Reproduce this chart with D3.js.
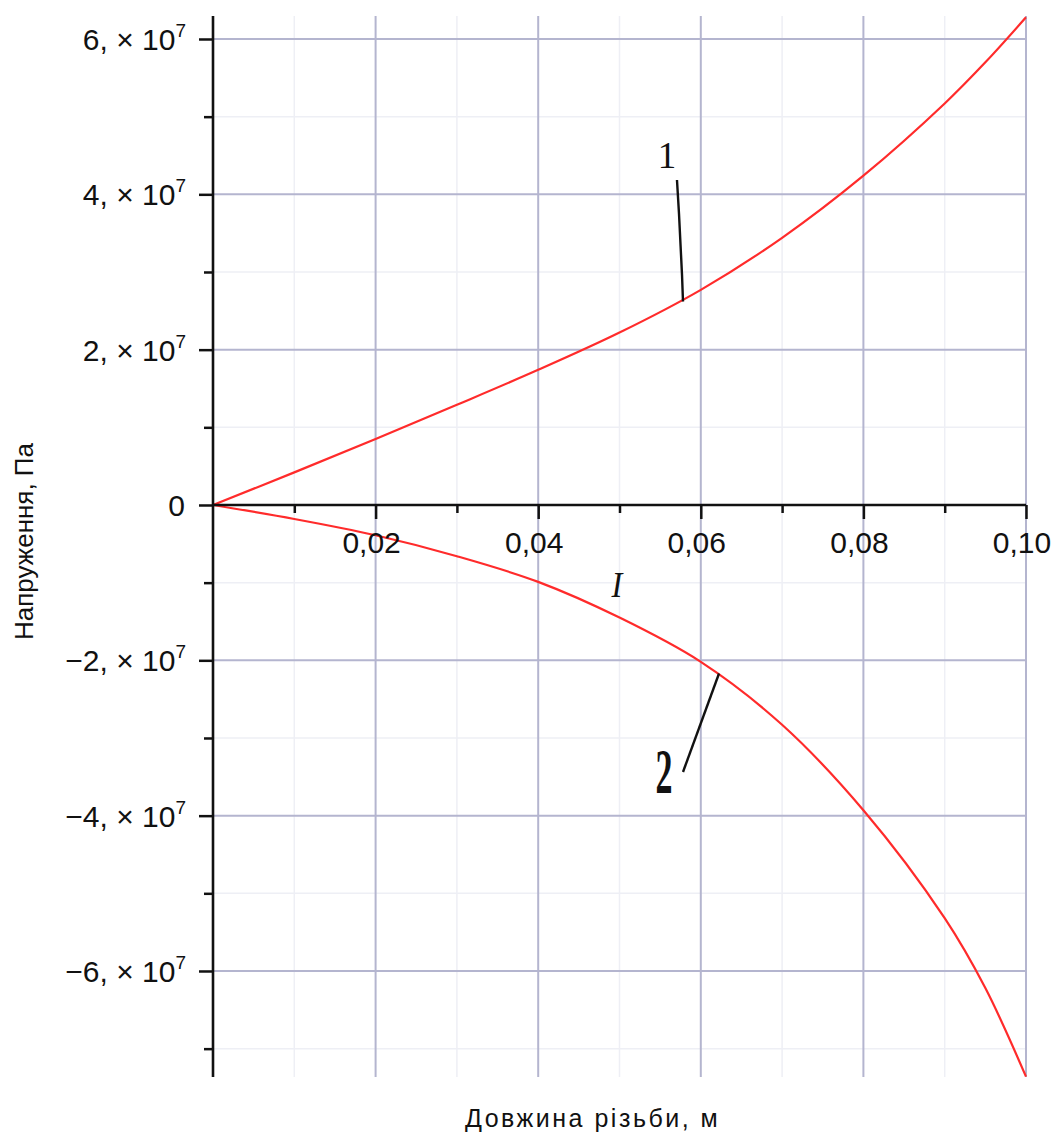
<!DOCTYPE html>
<html>
<head>
<meta charset="utf-8">
<script src="https://cdn.jsdelivr.net/npm/d3@7"></script>
<style>
  html, body { margin: 0; padding: 0; background: #ffffff; }
  svg { display: block; }
</style>
</head>
<body>
<svg id="chart" width="1056" height="1133"></svg>
<script>
// Thread length, m
const xValues = [0, 0.01, 0.02, 0.03, 0.04, 0.05, 0.06, 0.07, 0.08, 0.09, 0.095, 0.10];
// Curve 1 stress, Pa
const stress1 = [0, 4.2e6, 8.5e6, 1.29e7, 1.74e7, 2.22e7, 2.77e7, 3.44e7, 4.24e7, 5.17e7, 5.70e7, 6.28e7];
// Curve 2 stress, Pa
const stress2 = [0, -1.8e6, -3.9e6, -6.6e6, -9.9e6, -1.45e7, -2.02e7, -2.83e7, -3.93e7, -5.32e7, -6.22e7, -7.36e7];

const xMajorTicks = [0.02, 0.04, 0.06, 0.08, 0.10];
const xTickLabels = ["0,02", "0,04", "0,06", "0,08", "0,10"];
const xMinorTicks = [0.01, 0.03, 0.05, 0.07, 0.09];

const yMajorTicks = [-6e7, -4e7, -2e7, 0, 2e7, 4e7, 6e7];
const yTickMantissas = ["\u22126,", "\u22124,", "\u22122,", "0", "2,", "4,", "6,"];
const yMinorTicks = [-7e7, -5e7, -3e7, -1e7, 1e7, 3e7, 5e7];

const xTitle = "Довжина різьби, м";
const yTitle = "Напруження, Па";

// Curve markers: label, label anchor and leader points in data units
const markerLabels = ["1", "2", "I"];
const markerAnchors = [[0.05584, 4.34e7], [0.05547, -3.708e7], [0.04969, -1.185e7]];
const markerLeaders = [
  [[0.05707, 4.185e7], [0.05732, 3.747e7], [0.05769, 2.961e7], [0.05781, 2.62e7]],
  [[0.05781, -3.438e7], [0.06224, -2.170e7]],
  []
];

const svg = d3.select("#chart");
const x = d3.scaleLinear().domain([0, 0.1]).range([213, 1026]);
const y = d3.scaleLinear().domain([-7.365e7, 6.296e7]).range([1077, 16]);

const [x0, x1] = x.range();
const [yBottom, yTop] = y.range();

// Grid: faint minor lines, then bluish major lines
const grid = svg.append("g");
grid.selectAll(".vminor").data(xMinorTicks).join("line")
  .attr("x1", d => x(d)).attr("x2", d => x(d))
  .attr("y1", yTop).attr("y2", yBottom)
  .attr("stroke", "#eeeff5").attr("stroke-width", 1.5);
grid.selectAll(".hminor").data(yMinorTicks).join("line")
  .attr("y1", d => y(d)).attr("y2", d => y(d))
  .attr("x1", x0).attr("x2", x1)
  .attr("stroke", "#eeeff5").attr("stroke-width", 1.5);
grid.selectAll(".vmajor").data(xMajorTicks).join("line")
  .attr("x1", d => x(d)).attr("x2", d => x(d))
  .attr("y1", yTop).attr("y2", yBottom)
  .attr("stroke", "#b4b5cf").attr("stroke-width", 2);
grid.selectAll(".hmajor").data(yMajorTicks.filter(d => d !== 0)).join("line")
  .attr("y1", d => y(d)).attr("y2", d => y(d))
  .attr("x1", x0).attr("x2", x1)
  .attr("stroke", "#b4b5cf").attr("stroke-width", 2);

// Curves
const line = d3.line()
  .x(d => x(d[0])).y(d => y(d[1]))
  .curve(d3.curveCatmullRom.alpha(0.5));
[stress1, stress2].forEach(series => {
  svg.append("path")
    .datum(xValues.map((v, i) => [v, series[i]]))
    .attr("d", line)
    .attr("fill", "none")
    .attr("stroke", "#ff2b2b")
    .attr("stroke-width", 2.2);
});

// Axes through the origin
const axisColor = "#111";
const xAxisMajor = svg.append("g").attr("transform", `translate(0,${y(0)})`)
  .call(d3.axisBottom(x).tickValues(xMajorTicks).tickSize(14).tickFormat(""));
const xAxisMinor = svg.append("g").attr("transform", `translate(0,${y(0)})`)
  .call(d3.axisBottom(x).tickValues(xMinorTicks).tickSize(8).tickFormat(""));
const yAxisMajor = svg.append("g").attr("transform", `translate(${x(0)},0)`)
  .call(d3.axisLeft(y).tickValues(yMajorTicks).tickSize(14).tickFormat(""));
const yAxisMinor = svg.append("g").attr("transform", `translate(${x(0)},0)`)
  .call(d3.axisLeft(y).tickValues(yMinorTicks).tickSize(9).tickFormat(""));
[xAxisMajor, xAxisMinor, yAxisMajor, yAxisMinor].forEach(g => {
  g.select(".domain").remove();
  g.selectAll(".tick line").attr("stroke", axisColor).attr("stroke-width", 2.5);
});
svg.append("line")
  .attr("x1", x0).attr("x2", x1).attr("y1", y(0)).attr("y2", y(0))
  .attr("stroke", axisColor).attr("stroke-width", 2.6);
svg.append("line")
  .attr("x1", x(0)).attr("x2", x(0)).attr("y1", yTop).attr("y2", yBottom)
  .attr("stroke", axisColor).attr("stroke-width", 2.6);

// Tick labels
const tickFont = "'Liberation Sans', Arial, sans-serif";
svg.append("g").selectAll("text").data(xMajorTicks).join("text")
  .attr("x", d => x(d) - 4)
  .attr("y", y(0) + 48)
  .attr("text-anchor", "middle")
  .attr("font-family", tickFont)
  .attr("font-size", 30)
  .attr("fill", "#111")
  .text((d, i) => xTickLabels[i]);

const yLabels = svg.append("g").selectAll("text").data(yMajorTicks).join("text")
  .attr("x", 186)
  .attr("y", d => y(d) + 11)
  .attr("text-anchor", "end")
  .attr("font-family", tickFont)
  .attr("font-size", 30)
  .attr("fill", "#111");
yLabels.each(function (d, i) {
  const t = d3.select(this);
  if (d === 0) {
    t.attr("x", 185).text(yTickMantissas[i]);
    return;
  }
  t.append("tspan").text(yTickMantissas[i] + " \u00d7 10");
  t.append("tspan").attr("dy", -13).attr("font-size", 19).text("7");
});

// Axis titles
svg.append("text")
  .attr("transform", `translate(${x(0) - 180},640) rotate(-90)`)
  .attr("font-family", tickFont)
  .attr("font-size", 26)
  .attr("fill", "#111")
  .text(yTitle);
svg.append("text")
  .attr("x", 465).attr("y", 1127)
  .attr("font-family", tickFont)
  .attr("font-size", 25)
  .attr("letter-spacing", 2.5)
  .attr("fill", "#111")
  .text(xTitle);

// Curve markers and their leader lines
const leader = d3.line().x(d => x(d[0])).y(d => y(d[1]));
markerLeaders.forEach(pts => {
  if (pts.length < 2) return;
  svg.append("path").attr("d", leader(pts))
    .attr("fill", "none").attr("stroke", "#111").attr("stroke-width", 2.4);
});
const markerStyles = [
  { size: 37, weight: "normal", style: "normal", sx: 1, sy: 1.05 },
  { size: 40, weight: "bold", style: "normal", sx: 0.85, sy: 1.6 },
  { size: 36, weight: "normal", style: "italic", sx: 0.9, sy: 1 }
];
markerLabels.forEach((lab, i) => {
  const s = markerStyles[i];
  svg.append("text")
    .attr("transform", `translate(${x(markerAnchors[i][0])},${y(markerAnchors[i][1])}) scale(${s.sx},${s.sy})`)
    .attr("text-anchor", "middle")
    .attr("font-family", "'Liberation Serif', 'Times New Roman', serif")
    .attr("font-size", s.size)
    .attr("font-weight", s.weight)
    .attr("font-style", s.style)
    .attr("fill", "#111")
    .text(lab);
});
</script>
</body>
</html>
